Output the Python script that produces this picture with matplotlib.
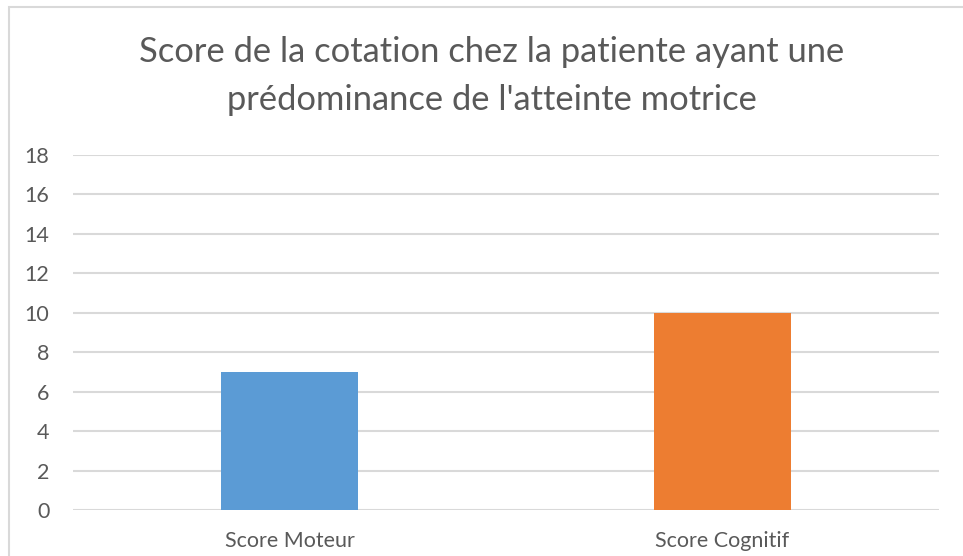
import matplotlib.pyplot as plt
from matplotlib.patches import Rectangle

# données
categories = ["Score Moteur", "Score Cognitif"]
scores = [7, 10]
couleurs = ['#5b9bd5', '#ed7d31']

TXT = '#595959'
GRILLE = '#d9d9d9'
plt.rcParams['font.family'] = ['Lato', 'DejaVu Sans']

fig = plt.figure(figsize=(9.63, 5.56), dpi=100)
W, H = 963, 556

# cadre du graphique
fig.patches.append(Rectangle((9 / W, -0.1), 1.2, 1.1 - 7 / H, transform=fig.transFigure,
                             fill=False, edgecolor=GRILLE, linewidth=1.5))

ax = fig.add_axes([73 / W, 1 - 510 / H, (939 - 73) / W, (510 - 155) / H])
x = list(range(len(categories)))
ax.bar(x, scores, width=0.316, color=couleurs, zorder=3)

ax.set_xlim(-0.5, 1.5)
ax.set_ylim(0, 18)
ax.set_yticks(range(0, 19, 2))
ax.set_xticks(x)
ax.set_xticklabels(categories)
ax.grid(axis='y', color=GRILLE, linewidth=1.5, zorder=0)
for s in ax.spines.values():
    s.set_visible(False)
ax.tick_params(axis='y', length=0, pad=17, labelsize=15.5, labelcolor=TXT)
ax.tick_params(axis='x', length=0, pad=15, labelsize=15.5, labelcolor=TXT)

fig.text(492 / W, 1 - 52 / H, "Score de la cotation chez la patiente ayant une",
         ha='center', va='center', fontsize=24.8, color=TXT)
fig.text(492 / W, 1 - 100 / H, "prédominance de l'atteinte motrice",
         ha='center', va='center', fontsize=24.8, color=TXT)

plt.savefig("out.png", dpi=100)
